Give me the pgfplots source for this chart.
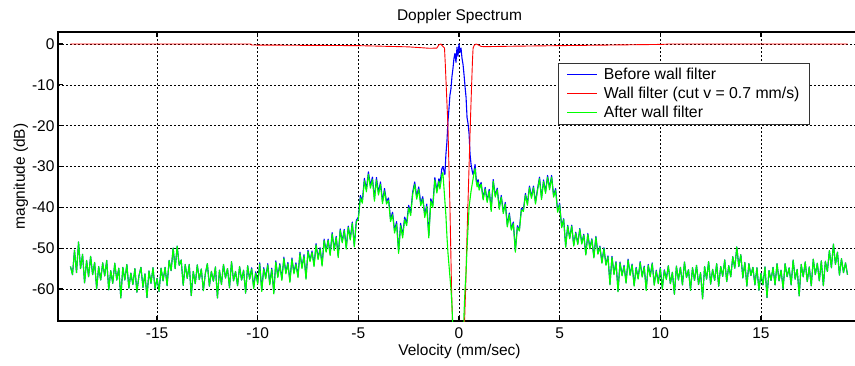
\documentclass[border=0pt]{standalone}
\usepackage{fontspec}
\setmainfont{Liberation Sans}
\usepackage{pgfplots}
\usepackage{pgfplotstable}
\pgfplotsset{compat=1.18}
\definecolor{mblue}{rgb}{0,0,1}
\definecolor{mred}{rgb}{1,0,0}
\definecolor{mgreen}{rgb}{0,1,0}

\pgfplotstableread{
x g b
-19.3 -54.5 -54.5
-19.2 -56.5 -56.5
-19.1 -50.5 -50.5
-19.0 -56.0 -56.0
-18.9 -48.5 -48.5
-18.8 -55.0 -55.0
-18.7 -51.5 -51.5
-18.6 -58.5 -58.5
-18.5 -53.0 -53.0
-18.4 -57.0 -57.0
-18.3 -52.0 -52.0
-18.2 -56.5 -56.5
-18.1 -53.5 -53.5
-18.0 -60.0 -60.0
-17.9 -54.5 -54.5
-17.8 -57.8 -57.8
-17.7 -53.6 -53.6
-17.6 -56.8 -56.8
-17.5 -53.0 -53.0
-17.4 -60.2 -60.2
-17.3 -55.5 -55.5
-17.2 -58.6 -58.6
-17.1 -53.7 -53.7
-17.0 -57.8 -57.8
-16.9 -54.9 -54.9
-16.8 -62.2 -62.2
-16.7 -54.7 -54.7
-16.6 -57.8 -57.8
-16.5 -54.0 -54.0
-16.4 -59.8 -59.8
-16.3 -56.1 -56.1
-16.2 -58.9 -58.9
-16.1 -55.0 -55.0
-16.0 -60.8 -60.8
-15.9 -56.8 -56.8
-15.8 -54.7 -54.7
-15.7 -59.6 -59.6
-15.6 -56.3 -56.3
-15.5 -62.1 -62.1
-15.4 -55.6 -55.6
-15.3 -58.6 -58.6
-15.2 -54.8 -54.8
-15.1 -59.9 -59.9
-15.0 -57.4 -57.4
-14.9 -60.6 -60.6
-14.8 -54.9 -54.9
-14.7 -58.0 -58.0
-14.6 -54.7 -54.7
-14.5 -59.2 -59.2
-14.4 -53.0 -53.0
-14.3 -55.5 -55.5
-14.2 -50.0 -50.0
-14.1 -55.0 -55.0
-14.0 -49.5 -49.5
-13.9 -54.2 -54.2
-13.8 -52.9 -52.9
-13.7 -59.1 -59.1
-13.6 -54.0 -54.0
-13.5 -57.4 -57.4
-13.4 -54.0 -54.0
-13.3 -61.6 -61.6
-13.2 -55.7 -55.7
-13.1 -58.7 -58.7
-13.0 -54.1 -54.1
-12.9 -57.7 -57.7
-12.8 -55.1 -55.1
-12.7 -60.4 -60.4
-12.6 -56.2 -56.2
-12.5 -53.8 -53.8
-12.4 -59.3 -59.3
-12.3 -55.7 -55.7
-12.2 -58.1 -58.1
-12.1 -54.6 -54.6
-12.0 -62.2 -62.2
-11.9 -55.4 -55.4
-11.8 -58.9 -58.9
-11.7 -54.0 -54.0
-11.6 -57.3 -57.3
-11.5 -55.0 -55.0
-11.4 -59.7 -59.7
-11.3 -53.3 -53.3
-11.2 -58.0 -58.0
-11.1 -55.7 -55.7
-11.0 -59.2 -59.2
-10.9 -54.5 -54.5
-10.8 -57.8 -57.8
-10.7 -55.4 -55.4
-10.6 -61.0 -61.0
-10.5 -54.3 -54.3
-10.4 -57.6 -57.6
-10.3 -55.1 -54.8
-10.2 -59.9 -59.6
-10.1 -56.1 -55.8
-10.0 -58.8 -58.5
-9.9 -53.9 -53.6
-9.8 -60.6 -60.3
-9.7 -55.1 -54.8
-9.6 -57.5 -57.2
-9.5 -54.1 -53.8
-9.4 -59.0 -58.7
-9.3 -55.2 -54.9
-9.2 -61.2 -60.9
-9.1 -53.4 -53.1
-9.0 -57.2 -56.9
-8.9 -54.1 -53.8
-8.8 -57.9 -57.6
-8.7 -52.5 -52.2
-8.6 -56.3 -56.0
-8.5 -53.8 -53.5
-8.4 -58.4 -58.1
-8.3 -52.7 -52.4
-8.2 -56.3 -56.0
-8.1 -53.9 -53.6
-8.0 -57.2 -56.9
-7.9 -51.3 -51.0
-7.8 -55.0 -54.7
-7.7 -51.9 -51.6
-7.6 -57.6 -57.3
-7.5 -50.8 -50.5
-7.4 -53.3 -53.0
-7.3 -51.0 -50.7
-7.2 -54.5 -54.2
-7.1 -49.2 -48.9
-7.0 -52.8 -52.5
-6.9 -50.2 -49.9
-6.8 -54.4 -54.1
-6.7 -48.1 -47.8
-6.6 -51.0 -50.7
-6.5 -48.1 -47.8
-6.4 -51.8 -51.5
-6.3 -46.5 -46.2
-6.2 -50.6 -50.3
-6.1 -47.4 -47.1
-6.0 -52.3 -52.0
-5.9 -45.6 -45.3
-5.8 -48.7 -48.4
-5.7 -45.7 -45.4
-5.6 -50.2 -49.9
-5.5 -44.9 -44.6
-5.4 -48.0 -47.7
-5.3 -43.9 -43.6
-5.2 -49.7 -49.4
-5.1 -43.5 -43.2
-5.0 -43.0 -42.4
-4.9 -37.7 -37.1
-4.8 -39.0 -38.4
-4.7 -33.5 -32.9
-4.6 -36.2 -35.6
-4.5 -31.9 -31.3
-4.4 -35.3 -34.7
-4.3 -33.2 -32.6
-4.2 -38.5 -37.9
-4.1 -33.3 -32.7
-4.0 -37.0 -36.4
-3.9 -34.4 -33.8
-3.8 -39.1 -38.5
-3.7 -36.0 -35.4
-3.6 -39.2 -38.6
-3.5 -38.3 -37.7
-3.4 -43.5 -42.9
-3.3 -41.8 -41.2
-3.2 -46.3 -45.7
-3.1 -44.1 -43.5
-3.0 -51.3 -50.7
-2.9 -44.5 -43.9
-2.8 -47.5 -46.9
-2.7 -43.0 -42.4
-2.6 -44.5 -43.9
-2.5 -40.1 -39.5
-2.4 -42.0 -41.4
-2.3 -36.8 -36.2
-2.2 -34.4 -33.8
-2.1 -38.0 -37.4
-2.0 -35.6 -35.0
-1.9 -39.6 -39.0
-1.8 -38.0 -37.4
-1.7 -42.5 -41.9
-1.6 -39.8 -39.2
-1.5 -47.5 -46.9
-1.4 -38.5 -37.9
-1.3 -40.0 -39.4
-1.2 -33.3 -32.7
-1.1 -36.5 -35.9
-1.0 -33.6 -33.0
-0.95 -35.5 -34.0
-0.9 -34.0 -32.5
-0.85 -32.0 -30.5
-0.8 -31.5 -30.0
-0.75 -35.0 -31.0
-0.7 -38.5 -32.0
-0.65 -42.0 -27.0
-0.6 -47.0 -24.0
-0.55 -51.0 -19.0
-0.5 -54.0 -16.0
-0.45 -57.0 -12.5
-0.4 -60.0 -11.0
-0.35 -64.0 -8.0
-0.3 -70.0 -6.0
-0.25 -80.0 -3.5
-0.2 -80.0 -2.3
-0.15 -80.0 -4.5
-0.1 -80.0 -0.8
-0.05 -80.0 -3.0
0.0 -80.0 0.0
0.05 -80.0 -2.0
0.1 -80.0 -1.0
0.15 -80.0 -3.5
0.2 -75.0 -5.0
0.25 -66.0 -7.5
0.3 -60.0 -10.4
0.35 -56.0 -13.0
0.4 -50.0 -18.0
0.45 -45.0 -19.5
0.5 -40.0 -22.0
0.55 -38.0 -27.0
0.6 -36.0 -29.5
0.65 -34.5 -31.0
0.7 -33.0 -32.0
0.75 -31.5 -31.0
0.8 -30.5 -29.5
0.85 -33.5 -32.8
0.9 -35.0 -34.3
0.95 -33.8 -33.2
1.0 -35.8 -35.2
1.1 -34.3 -33.9
1.2 -38.2 -37.8
1.3 -35.5 -35.1
1.4 -38.8 -38.4
1.5 -36.0 -35.6
1.6 -41.0 -40.6
1.7 -33.6 -33.2
1.8 -37.5 -37.1
1.9 -35.7 -35.3
2.0 -40.5 -40.1
2.1 -37.5 -37.1
2.2 -41.5 -41.1
2.3 -39.2 -38.8
2.4 -44.8 -44.4
2.5 -41.8 -41.4
2.6 -45.6 -45.2
2.7 -44.0 -43.6
2.8 -51.0 -50.6
2.9 -44.9 -44.5
3.0 -45.8 -45.4
3.1 -40.6 -40.2
3.2 -41.0 -40.6
3.3 -37.0 -36.6
3.4 -39.5 -39.1
3.5 -35.2 -34.8
3.6 -37.8 -37.4
3.7 -35.2 -34.8
3.8 -39.2 -38.8
3.9 -35.9 -35.5
4.0 -33.0 -32.6
4.1 -38.1 -37.7
4.2 -33.7 -33.3
4.3 -36.6 -36.2
4.4 -32.6 -32.2
4.5 -35.7 -35.3
4.6 -32.6 -32.2
4.7 -37.5 -37.1
4.8 -35.8 -35.4
4.9 -41.2 -40.8
5.0 -39.4 -39.0
5.1 -45.0 -44.8
5.2 -43.0 -42.8
5.3 -49.8 -49.6
5.4 -44.6 -44.4
5.5 -47.7 -47.5
5.6 -44.6 -44.4
5.7 -49.5 -49.3
5.8 -46.3 -46.1
5.9 -49.1 -48.9
6.0 -45.4 -45.2
6.1 -49.0 -48.8
6.2 -46.8 -46.6
6.3 -51.7 -51.5
6.4 -46.6 -46.4
6.5 -50.2 -50.0
6.6 -47.9 -47.7
6.7 -52.4 -52.2
6.8 -47.3 -47.1
6.9 -51.5 -51.3
7.0 -49.7 -49.5
7.1 -53.7 -53.5
7.2 -50.1 -49.9
7.3 -54.2 -54.0
7.4 -52.1 -51.9
7.5 -59.0 -58.8
7.6 -52.2 -52.0
7.7 -56.5 -56.3
7.8 -53.5 -53.3
7.9 -60.7 -60.5
8.0 -53.6 -53.4
8.1 -56.8 -56.6
8.2 -54.4 -54.2
8.3 -58.6 -58.4
8.4 -52.9 -52.7
8.5 -56.7 -56.5
8.6 -54.1 -53.9
8.7 -59.3 -59.1
8.8 -54.9 -54.7
8.9 -57.6 -57.4
9.0 -53.5 -53.3
9.1 -57.1 -56.9
9.2 -54.6 -54.4
9.3 -60.4 -60.2
9.4 -54.2 -54.0
9.5 -57.0 -56.8
9.6 -53.8 -53.6
9.7 -59.1 -58.9
9.8 -55.6 -55.4
9.9 -58.7 -58.5
10.0 -55.0 -54.8
10.1 -60.0 -59.8
10.2 -55.5 -55.3
10.3 -57.7 -57.5
10.4 -54.3 -54.3
10.5 -58.7 -58.7
10.6 -55.9 -55.9
10.7 -61.3 -61.3
10.8 -54.4 -54.4
10.9 -57.8 -57.8
11.0 -54.7 -54.7
11.1 -59.0 -59.0
11.2 -53.4 -53.4
11.3 -57.2 -57.2
11.4 -55.3 -55.3
11.5 -60.3 -60.3
11.6 -54.8 -54.8
11.7 -57.9 -57.9
11.8 -54.2 -54.2
11.9 -58.9 -58.9
12.0 -56.0 -56.0
12.1 -62.4 -62.4
12.2 -54.5 -54.5
12.3 -57.6 -57.6
12.4 -53.3 -53.3
12.5 -58.8 -58.8
12.6 -55.2 -55.2
12.7 -57.9 -57.9
12.8 -53.8 -53.8
12.9 -59.3 -59.3
13.0 -54.5 -54.5
13.1 -56.9 -56.9
13.2 -52.9 -52.9
13.3 -58.2 -58.2
13.4 -54.3 -54.3
13.5 -57.0 -57.0
13.6 -52.1 -52.1
13.7 -54.9 -54.9
13.8 -49.7 -49.7
13.9 -54.5 -54.5
14.0 -51.6 -51.6
14.1 -57.3 -57.3
14.2 -53.5 -53.5
14.3 -59.3 -59.3
14.4 -53.8 -53.8
14.5 -56.7 -56.7
14.6 -54.7 -54.7
14.7 -59.0 -59.0
14.8 -54.8 -54.8
14.9 -60.3 -60.3
15.0 -56.2 -56.2
15.1 -59.0 -59.0
15.2 -54.6 -54.6
15.3 -62.1 -62.1
15.4 -55.5 -55.5
15.5 -57.9 -57.9
15.6 -54.7 -54.7
15.7 -59.0 -59.0
15.8 -53.8 -53.8
15.9 -58.0 -58.0
16.0 -55.4 -55.4
16.1 -59.9 -59.9
16.2 -53.8 -53.8
16.3 -57.0 -57.0
16.4 -54.8 -54.8
16.5 -59.0 -59.0
16.6 -52.9 -52.9
16.7 -57.6 -57.6
16.8 -55.2 -55.2
16.9 -61.7 -61.7
17.0 -54.0 -54.0
17.1 -57.0 -57.0
17.2 -53.4 -53.4
17.3 -58.2 -58.2
17.4 -54.6 -54.6
17.5 -59.2 -59.2
17.6 -52.7 -52.7
17.7 -56.5 -56.5
17.8 -53.7 -53.7
17.9 -58.0 -58.0
18.0 -53.1 -53.1
18.1 -59.2 -59.2
18.2 -53.2 -53.2
18.3 -55.7 -55.7
18.4 -50.6 -50.6
18.5 -54.8 -54.8
18.6 -49.0 -49.0
18.7 -54.0 -54.0
18.8 -51.0 -51.0
18.9 -56.6 -56.6
19.0 -52.6 -52.6
19.1 -56.0 -56.0
19.2 -53.6 -53.6
19.3 -56.5 -56.5
}\spec

\pgfplotstableread{
x r
-19.3 0
-10.35 0
-10.3 -0.25
-5.0 -0.4
-2.5 -0.7
-1.45 -1.05
-1.1 -1.0
-1.0 -0.2
-0.9 0
-0.82 -0.5
-0.72 -1.0
-0.68 -5
-0.62 -12
-0.55 -20
-0.5 -30
-0.45 -40
-0.41 -50
-0.37 -60
-0.3 -72
-0.2 -90
0.2 -90
0.25 -72
0.33 -60
0.38 -50
0.44 -40
0.5 -30
0.56 -20
0.62 -11
0.67 -4
0.7 -1.0
0.76 -0.3
0.85 0
0.95 -0.2
1.1 -0.6
1.3 -0.65
2.5 -0.55
5.0 -0.4
10.0 -0.1
10.3 -0.05
10.35 0
19.3 0
}\wall

\begin{document}
\begin{tikzpicture}
\begin{axis}[
  scale only axis,
  width=803pt, height=289pt,
  xmin=-19.92, xmax=19.97,
  ymin=-67.84, ymax=2.94,
  xtick={-15,-10,-5,0,5,10,15},
  ytick={-60,-50,-40,-30,-20,-10,0},
  tick align=inside,
  major tick length=5pt,
  tick style={black, line width=1.2pt},
  axis line style={black, line width=1.1pt},
  grid=major,
  major grid style={black, line width=0.6pt, dash pattern=on 2pt off 2pt},
  /pgf/number format/assume math mode=true,
  font=\fontsize{15.5}{18}\selectfont,
  tick label style={font=\fontsize{15.5}{18}\selectfont},
  xticklabel style={yshift=-3pt},
  title style={yshift=-1pt},
  xlabel style={yshift=1pt},
  ylabel style={yshift=-3pt},
  title={Doppler Spectrum},
  xlabel={Velocity (mm/sec)},
  ylabel={magnitude (dB)},
  legend style={at={(0.623,0.893)}, anchor=north west, draw=black!80,
    line width=0.5pt, fill=white, font=\fontsize{15.8}{16}\selectfont,
    row sep=2.2pt, inner xsep=8pt, inner ysep=3pt},
  legend cell align=left,
  legend image code/.code={\draw[#1] (0pt,0.4pt) -- (30pt,0.4pt); \path (34pt,0pt);},
  every axis plot/.append style={line join=round, line width=1.1pt},
]
\addlegendimage{color=mblue, line width=1.3pt}
\addlegendentry{Before wall filter}
\addlegendimage{color=mred, line width=1.3pt}
\addlegendentry{Wall filter (cut v = 0.7 mm/s)\hspace{4pt}}
\addlegendimage{color=mgreen, line width=1.3pt}
\addlegendentry{After wall filter}
\addplot[color=mblue, no markers, forget plot] table[x=x, y=b] {\spec};
\addplot[color=mred, no markers, line width=0.9pt, forget plot] table[x=x, y=r] {\wall};
\addplot[color=mgreen, no markers, forget plot] table[x=x, y=g] {\spec};
\end{axis}
\pgfresetboundingbox
\path[use as bounding box] (-58pt,-44pt) rectangle (797pt,321pt);
\end{tikzpicture}
\end{document}
